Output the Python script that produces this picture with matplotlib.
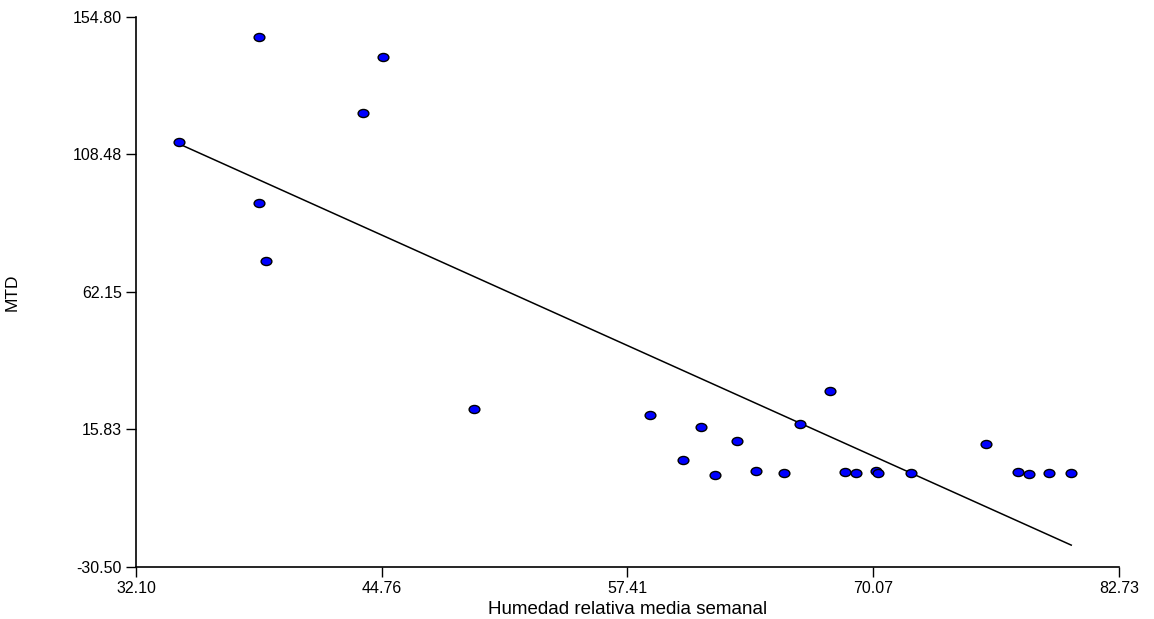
import numpy as np
import matplotlib.pyplot as plt
from matplotlib.path import Path

# Humedad relativa media semanal vs MTD
humedad = [34.32, 38.44, 38.44, 38.80, 43.80, 44.83, 49.51, 58.58, 60.28, 61.21,
           61.93, 63.06, 64.04, 65.48, 66.31, 67.85, 68.63, 69.19, 70.22, 70.33,
           72.03, 75.89, 77.54, 78.11, 79.14, 80.27]
mtd = [112.58, 147.96, 92.03, 72.49, 122.35, 141.22, 22.62, 20.60, 5.44, 16.56,
       0.39, 11.84, 1.73, 1.06, 17.57, 28.69, 1.40, 1.06, 1.73, 1.06,
       1.06, 10.83, 1.40, 0.72, 1.06, 1.06]

x_ticks = [32.10, 44.76, 57.41, 70.07, 82.73]
y_ticks = [-30.50, 15.83, 62.15, 108.48, 154.80]

plt.rcParams['font.family'] = ['Liberation Sans', 'DejaVu Sans']

fig = plt.figure(figsize=(11.54, 6.19), dpi=100)
ax = fig.add_axes([136/1154, 1 - 567/619, (1119-136)/1154, (567-17)/619])

# linear fit
m, c = np.polyfit(humedad, mtd, 1)
xl = np.array([min(humedad), max(humedad)])
ax.plot(xl, m*xl + c, color='black', lw=1.1, zorder=2)

# elliptical marker, wider than tall
circ = Path.unit_circle()
ellipse = Path(circ.vertices * np.array([1.0, 0.75]), circ.codes)
ax.scatter(humedad, mtd, marker=ellipse, s=60, facecolor='#0000ff',
           edgecolor='black', linewidths=1, zorder=3)

ax.set_xlim(x_ticks[0], x_ticks[-1])
ax.set_ylim(y_ticks[0], y_ticks[-1])
ax.set_xticks(x_ticks)
ax.set_yticks(y_ticks)
ax.set_xticklabels([f'{v:.2f}' for v in x_ticks])
ax.set_yticklabels([f'{v:.2f}' for v in y_ticks])
ax.tick_params(direction='out', length=7, width=1, labelsize=11.5)
ax.tick_params(axis='y', pad=3)
ax.tick_params(axis='x', pad=3)
for s in ['top', 'right']:
    ax.spines[s].set_visible(False)
for s in ['left', 'bottom']:
    ax.spines[s].set_linewidth(1.2)

ax.set_xlabel('Humedad relativa media semanal', fontsize=13.5, labelpad=4)
ax.set_ylabel('MTD', fontsize=12.5)
ax.yaxis.set_label_coords(-0.118, 0.5)

plt.savefig('out.png', format='png')
